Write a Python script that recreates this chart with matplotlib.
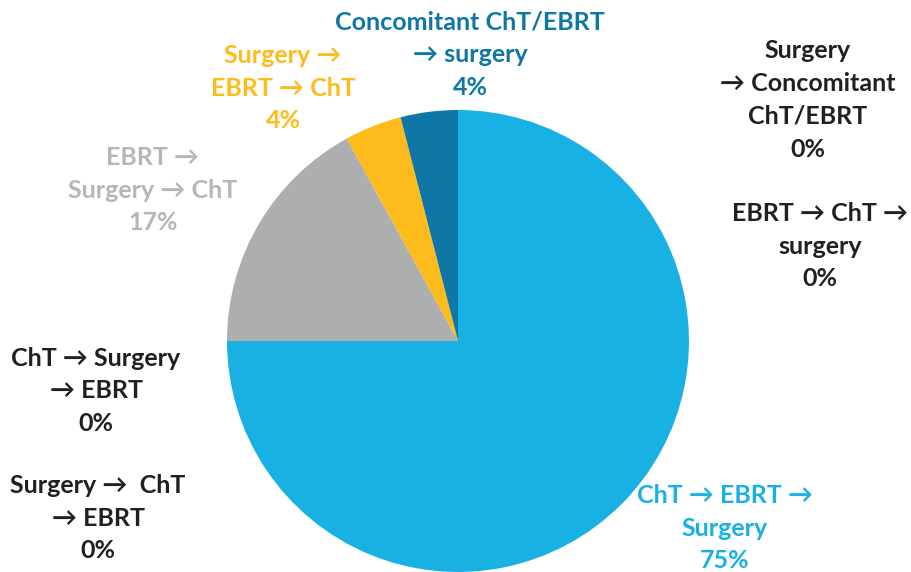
import matplotlib
matplotlib.use("Agg")
import matplotlib.pyplot as plt

# Veri (saat yönünde, tepeden başlayarak)
dilimler = ["ChT → EBRT →\nSurgery", "EBRT →\nSurgery → ChT",
            "Surgery →\nEBRT → ChT", "Concomitant ChT/EBRT\n→ surgery",
            "Surgery\n→ Concomitant\nChT/EBRT", "EBRT → ChT →\nsurgery",
            "ChT → Surgery\n→ EBRT", "Surgery →  ChT\n→ EBRT"]
yuzdeler = [75, 17, 4, 4, 0, 0, 0, 0]
renkler = ["#19B1E3", "#ADAEB0", "#FDBB1C", "#0E77A6",
           "#231F20", "#231F20", "#231F20", "#231F20"]
etiket_renkleri = ["#19B1E3", "#B5B6B8", "#FDBB1C", "#0E77A6",
                   "#231F20", "#231F20", "#231F20", "#231F20"]

# Etiket merkezleri (piksel, üstten)
etiket_xy = [(725, 528), (153, 190), (283, 88), (470, 55),
             (808, 100), (820, 246), (96, 391), (98, 518)]

W, H = 911, 572
fig = plt.figure(figsize=(W / 100, H / 100), dpi=100)
ax = fig.add_axes([0, 0, 1, 1])

# Sıfır olmayan dilimler
vals = [v for v in yuzdeler if v > 0]
cols = [c for v, c in zip(yuzdeler, renkler) if v > 0]
ax.pie(vals, colors=cols, startangle=90, counterclock=False,
       center=(458, H - 341), radius=231, frame=True,
       wedgeprops=dict(linewidth=0))
ax.set_xlim(0, W)
ax.set_ylim(0, H)
ax.set_aspect("equal")
ax.axis("off")

for ad, v, c, (x, y) in zip(dilimler, yuzdeler, etiket_renkleri, etiket_xy):
    ax.text(x, H - y, f"{ad}\n{v}%", ha="center", va="center",
            color=c, fontsize=18, fontweight="bold",
            family=["Lato", "DejaVu Sans"], linespacing=1.52)

fig.savefig("out.png", dpi=100)
